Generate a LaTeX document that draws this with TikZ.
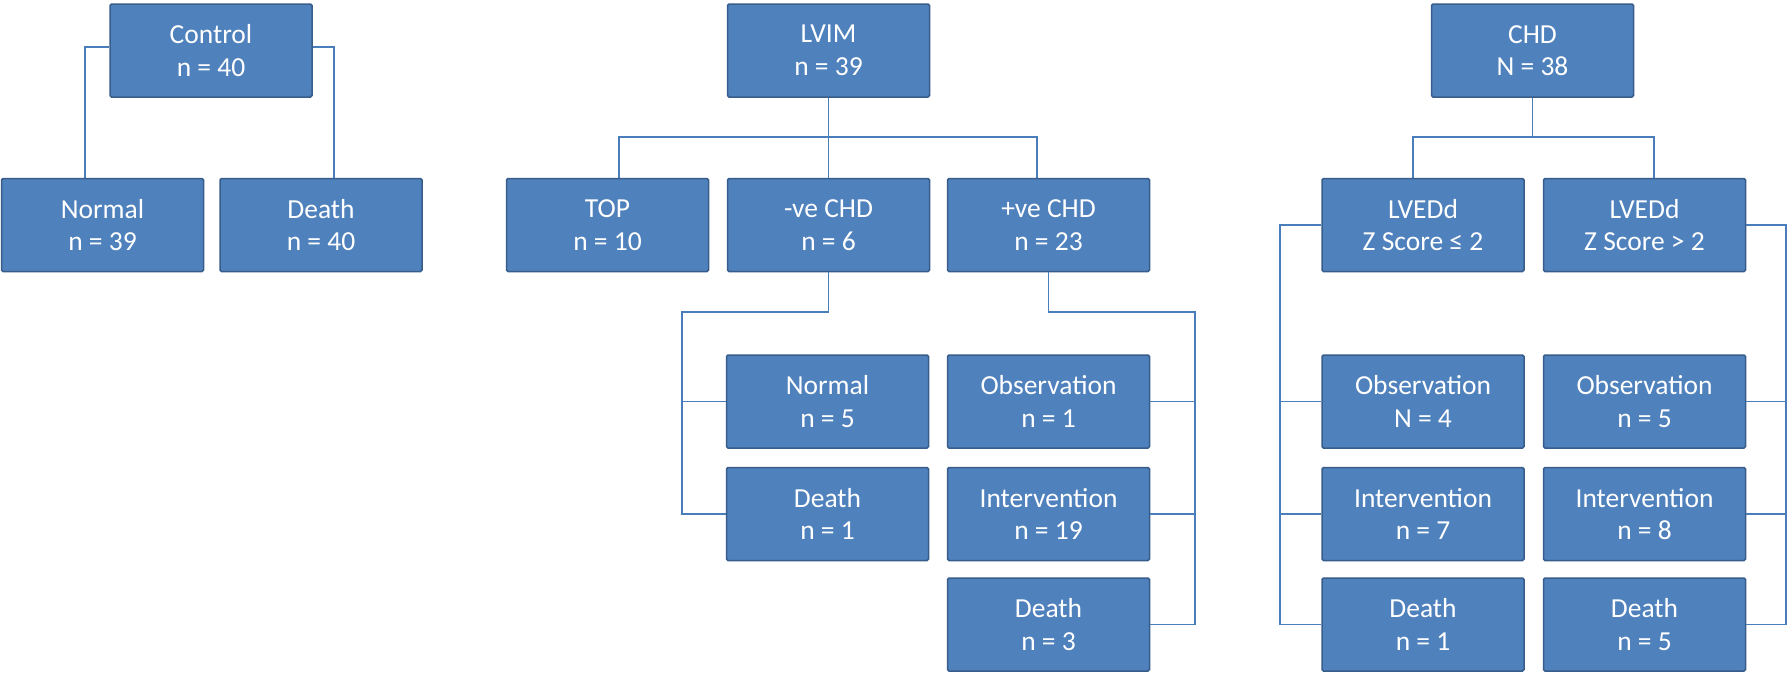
\documentclass[tikz,border=0pt]{standalone}
\usepackage{fontspec}
\setmainfont{Carlito}
\definecolor{boxfill}{RGB}{79,129,189}
\definecolor{boxline}{RGB}{56,93,138}
\definecolor{wire}{RGB}{74,126,187}
\begin{document}
\begin{tikzpicture}[x=1pt,y=-1pt,
  box/.style={draw=boxline, line width=1.5pt, fill=boxfill, rounded corners=1.5pt,
    minimum width=202pt, minimum height=93pt, inner sep=0pt, align=center,
    text=white, font=\fontsize{27.5}{32.5}\selectfont},
  link/.style={draw=wire, line width=1.5pt}]
\fill[white] (0,0) rectangle (1791,673);
\useasboundingbox (0,0) rectangle (1791,673);

% ---- top row ----
\node[box] (control) at (211,50.5)    {Control\\n = 40};
\node[box] (lvim)    at (828.5,50.5)  {LVIM\\n = 39};
\node[box] (chd)     at (1532.5,50.5) {CHD\\N = 38};

% ---- second row ----
\node[box] (normal) at (102.5,225)  {Normal\\n = 39};
\node[box] (death)  at (321,225)    {Death\\n = 40};
\node[box] (top)    at (607.5,225)  {TOP\\n = 10};
\node[box] (neg)    at (828.5,225)  {-ve CHD\\n = 6};
\node[box] (pos)    at (1048.5,225) {+ve CHD\\n = 23};
\node[box] (lvl)    at (1423,225)   {LVEDd\\Z Score ≤ 2};
\node[box] (lvh)    at (1644.5,225) {LVEDd\\Z Score > 2};

% ---- outcome rows ----
\node[box] (nnorm)  at (827.5,401.5)  {Normal\\n = 5};
\node[box] (ndeath) at (827.5,514)    {Death\\n = 1};
\node[box] (pobs)   at (1048.5,401.5) {Observation\\n = 1};
\node[box] (pint)   at (1048.5,514)   {Intervention\\n = 19};
\node[box] (pdeath) at (1048.5,624.5) {Death\\n = 3};
\node[box] (lobs)   at (1423,401.5)   {Observation\\N = 4};
\node[box] (lint)   at (1423,514)     {Intervention\\n = 7};
\node[box] (ldeath) at (1423,624.5)   {Death\\n = 1};
\node[box] (hobs)   at (1644.5,401.5) {Observation\\n = 5};
\node[box] (hint)   at (1644.5,514)   {Intervention\\n = 8};
\node[box] (hdeath) at (1644.5,624.5) {Death\\n = 5};

% ---- routing points ----
\coordinate (cL)  at (85,0);
\coordinate (cR)  at (334,0);
\coordinate (lbL) at (619,137);
\coordinate (lbR) at (1037,137);
\coordinate (nb)  at (682,312);
\coordinate (pb)  at (1195,312);
\coordinate (cbL) at (1413,137);
\coordinate (cbR) at (1654,137);
\coordinate (lb)  at (1280,0);
\coordinate (hb)  at (1786,0);

% ---- Control ----
\draw[link] ([yshift=3.5pt]control.west) -| (normal.north -| cL);
\draw[link] ([yshift=3.5pt]control.east) -| (death.north -| cR);

% ---- LVIM ----
\draw[link] (lvim.south) -- (neg.north);
\draw[link] (top.north -| lbL) -- (lbL) -- (lbR) -- (pos.north -| lbR);

% ---- -ve CHD ----
\draw[link] (neg.south) |- (nb) -- (nb |- ndeath.west) -- (ndeath.west);
\draw[link] (nb |- nnorm.west) -- (nnorm.west);

% ---- +ve CHD ----
\draw[link] (pos.south) |- (pb) -- (pb |- pdeath.east) -- (pdeath.east);
\draw[link] (pb |- pobs.east) -- (pobs.east);
\draw[link] (pb |- pint.east) -- (pint.east);

% ---- CHD ----
\draw[link] (chd.south) -- (chd.south |- cbL);
\draw[link] (lvl.north -| cbL) -- (cbL) -- (cbR) -- (lvh.north -| cbR);

% ---- LVEDd Z <= 2 ----
\draw[link] (lvl.west) -| (ldeath.west -| lb) -- (ldeath.west);
\draw[link] (lobs.west -| lb) -- (lobs.west);
\draw[link] (lint.west -| lb) -- (lint.west);

% ---- LVEDd Z > 2 ----
\draw[link] (lvh.east) -| (hdeath.east -| hb) -- (hdeath.east);
\draw[link] (hobs.east -| hb) -- (hobs.east);
\draw[link] (hint.east -| hb) -- (hint.east);
\end{tikzpicture}
\end{document}
